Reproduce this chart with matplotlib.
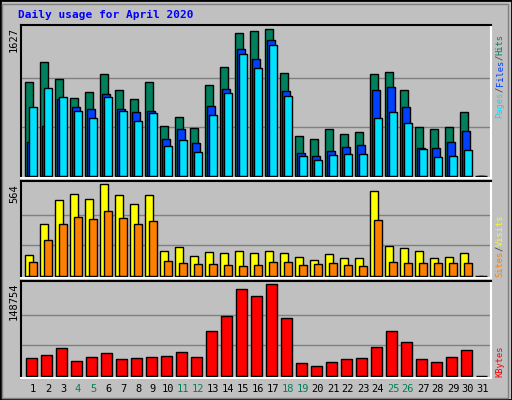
import matplotlib
matplotlib.use("Agg")
import matplotlib.pyplot as plt
from matplotlib.patches import Rectangle
import numpy as np

days = list(range(1, 32))
weekend = [4, 5, 11, 12, 18, 19, 25, 26]
hits = [1037, 1259, 1081, 870, 936, 1126, 954, 859, 1037, 551, 651, 529, 1007, 1207, 1583, 1605, 1627, 1137, 440, 407, 518, 462, 484, 1126, 1148, 954, 540, 518, 540, 706, 0]
files = [374, 551, 850, 762, 739, 906, 739, 706, 717, 407, 518, 362, 773, 962, 1405, 1294, 1505, 940, 251, 218, 274, 318, 340, 954, 988, 762, 307, 307, 374, 496, 0]
pages = [762, 973, 873, 717, 640, 873, 717, 607, 695, 329, 396, 262, 673, 917, 1350, 1194, 1450, 884, 218, 174, 229, 240, 240, 640, 706, 584, 296, 207, 218, 285, 0]
sites = [129, 319, 466, 503, 472, 564, 497, 441, 497, 153, 178, 123, 147, 141, 153, 141, 153, 141, 117, 98, 135, 110, 110, 521, 184, 172, 153, 110, 117, 141, 0]
visits = [86, 221, 319, 362, 350, 399, 356, 319, 337, 92, 80, 74, 74, 67, 61, 67, 86, 86, 67, 74, 80, 67, 61, 343, 86, 80, 80, 80, 80, 80, 0]
kbytes = [28504, 33390, 44791, 23618, 30133, 36648, 26875, 28504, 30133, 31762, 38277, 30133, 72477, 96908, 140881, 129480, 148754, 93650, 20361, 15474, 21989, 26875, 28504, 46420, 72477, 54561, 26875, 21989, 30133, 41533, 0]

BG = "#C0C0C0"
fig = plt.figure(figsize=(5.12, 4.0), dpi=100, facecolor=BG)
W, H = 512, 400
def rect(l, t, r, b):
    return [l / W, 1 - b / H, (r - l) / W, (b - t) / H]

fig.patches.append(Rectangle((0, 0), 1, 1, transform=fig.transFigure, fill=False, edgecolor="black", lw=2))
fig.patches.append(Rectangle((2/W, 2/H), 1-6/W, 1-6/H, transform=fig.transFigure, fill=False, edgecolor="#808080", lw=1))

x = np.array(days, dtype=float)
L, R = 20.7, 490.7
xlo = 1 + (L - 33) / 15
xhi = 1 + (R - 33) / 15

def panel(t, b, base, maxpx, maxval):
    ax = fig.add_axes(rect(L, t, R, b))
    ax.set_facecolor(BG)
    s = maxval / maxpx
    ax.set_ylim(-(b - base) * s, (base - t) * s)
    ax.set_xlim(xlo, xhi)
    for g in (maxval / 3, 2 * maxval / 3):
        ax.axhline(g, color="#808080", lw=1, zorder=0)
    ax.set_xticks([]); ax.set_yticks([])
    for sp in ("top", "left"):
        ax.spines[sp].set_color("black")
    for sp in ("bottom", "right"):
        ax.spines[sp].set_color("white")
    for sp in ax.spines.values():
        sp.set_linewidth(1.5)
    return ax

kw = dict(align="edge", edgecolor="black", linewidth=1)
ax1 = panel(25, 178, 176, 146.7, 1627)
ax1.bar(x - 0.51, hits, 0.49, color="#00805C", **kw)
ax1.bar(x - 0.38, files, 0.49, color="#0040FF", **kw)
ax1.bar(x - 0.25, pages, 0.49, color="#00E0FF", **kw)

ax2 = panel(181, 278, 276, 91.7, 564)
ax2.bar(x - 0.51, sites, 0.53, color="#FFFF00", **kw)
ax2.bar(x - 0.25, visits, 0.49, color="#FF8000", **kw)

ax3 = panel(281, 378, 376, 91.7, 148754)
ax3.bar(x - 0.45, kbytes, 0.69, color="#FF0000", **kw)

mono = "DejaVu Sans Mono"
fig.text(18 / W, 1 - 15 / H, "Daily usage for April 2020", color="#0000FF", fontweight="bold",
         family=mono, fontsize=8, va="center", ha="left")
for lab, ytop in (("1627", 27), ("564", 184), ("148754", 282)):
    fig.text(14 / W, 1 - ytop / H, lab, rotation=90, family=mono, fontsize=7.5, va="top", ha="center")

renderer = fig.canvas.get_renderer()
def rlabels(parts, ybot, fs=6.3):
    y = ybot
    for txt, col in parts:
        t = fig.text(500 / W, 1 - y / H, txt, rotation=90, color=col, family=mono, fontsize=fs,
                     va="bottom", ha="center")
        y -= t.get_window_extent(renderer).height
rlabels([("Pages", "#00E0FF"), ("/", "#404040"), ("Files", "#0040FF"), ("/", "#404040"), ("Hits", "#00805C")], 118)
rlabels([("Sites", "#FF8000"), ("/", "#404040"), ("Visits", "#FFFF00")], 277)
rlabels([("KBytes", "#FF0000")], 377)

for d in days:
    px = 33 + (d - 1) * 15
    fig.text(px / W, 1 - 389 / H, str(d), color="#00805C" if d in weekend else "black",
             family=mono, fontsize=7.5, ha="center", va="center")

fig.savefig("out.png", dpi=100, facecolor=BG)
